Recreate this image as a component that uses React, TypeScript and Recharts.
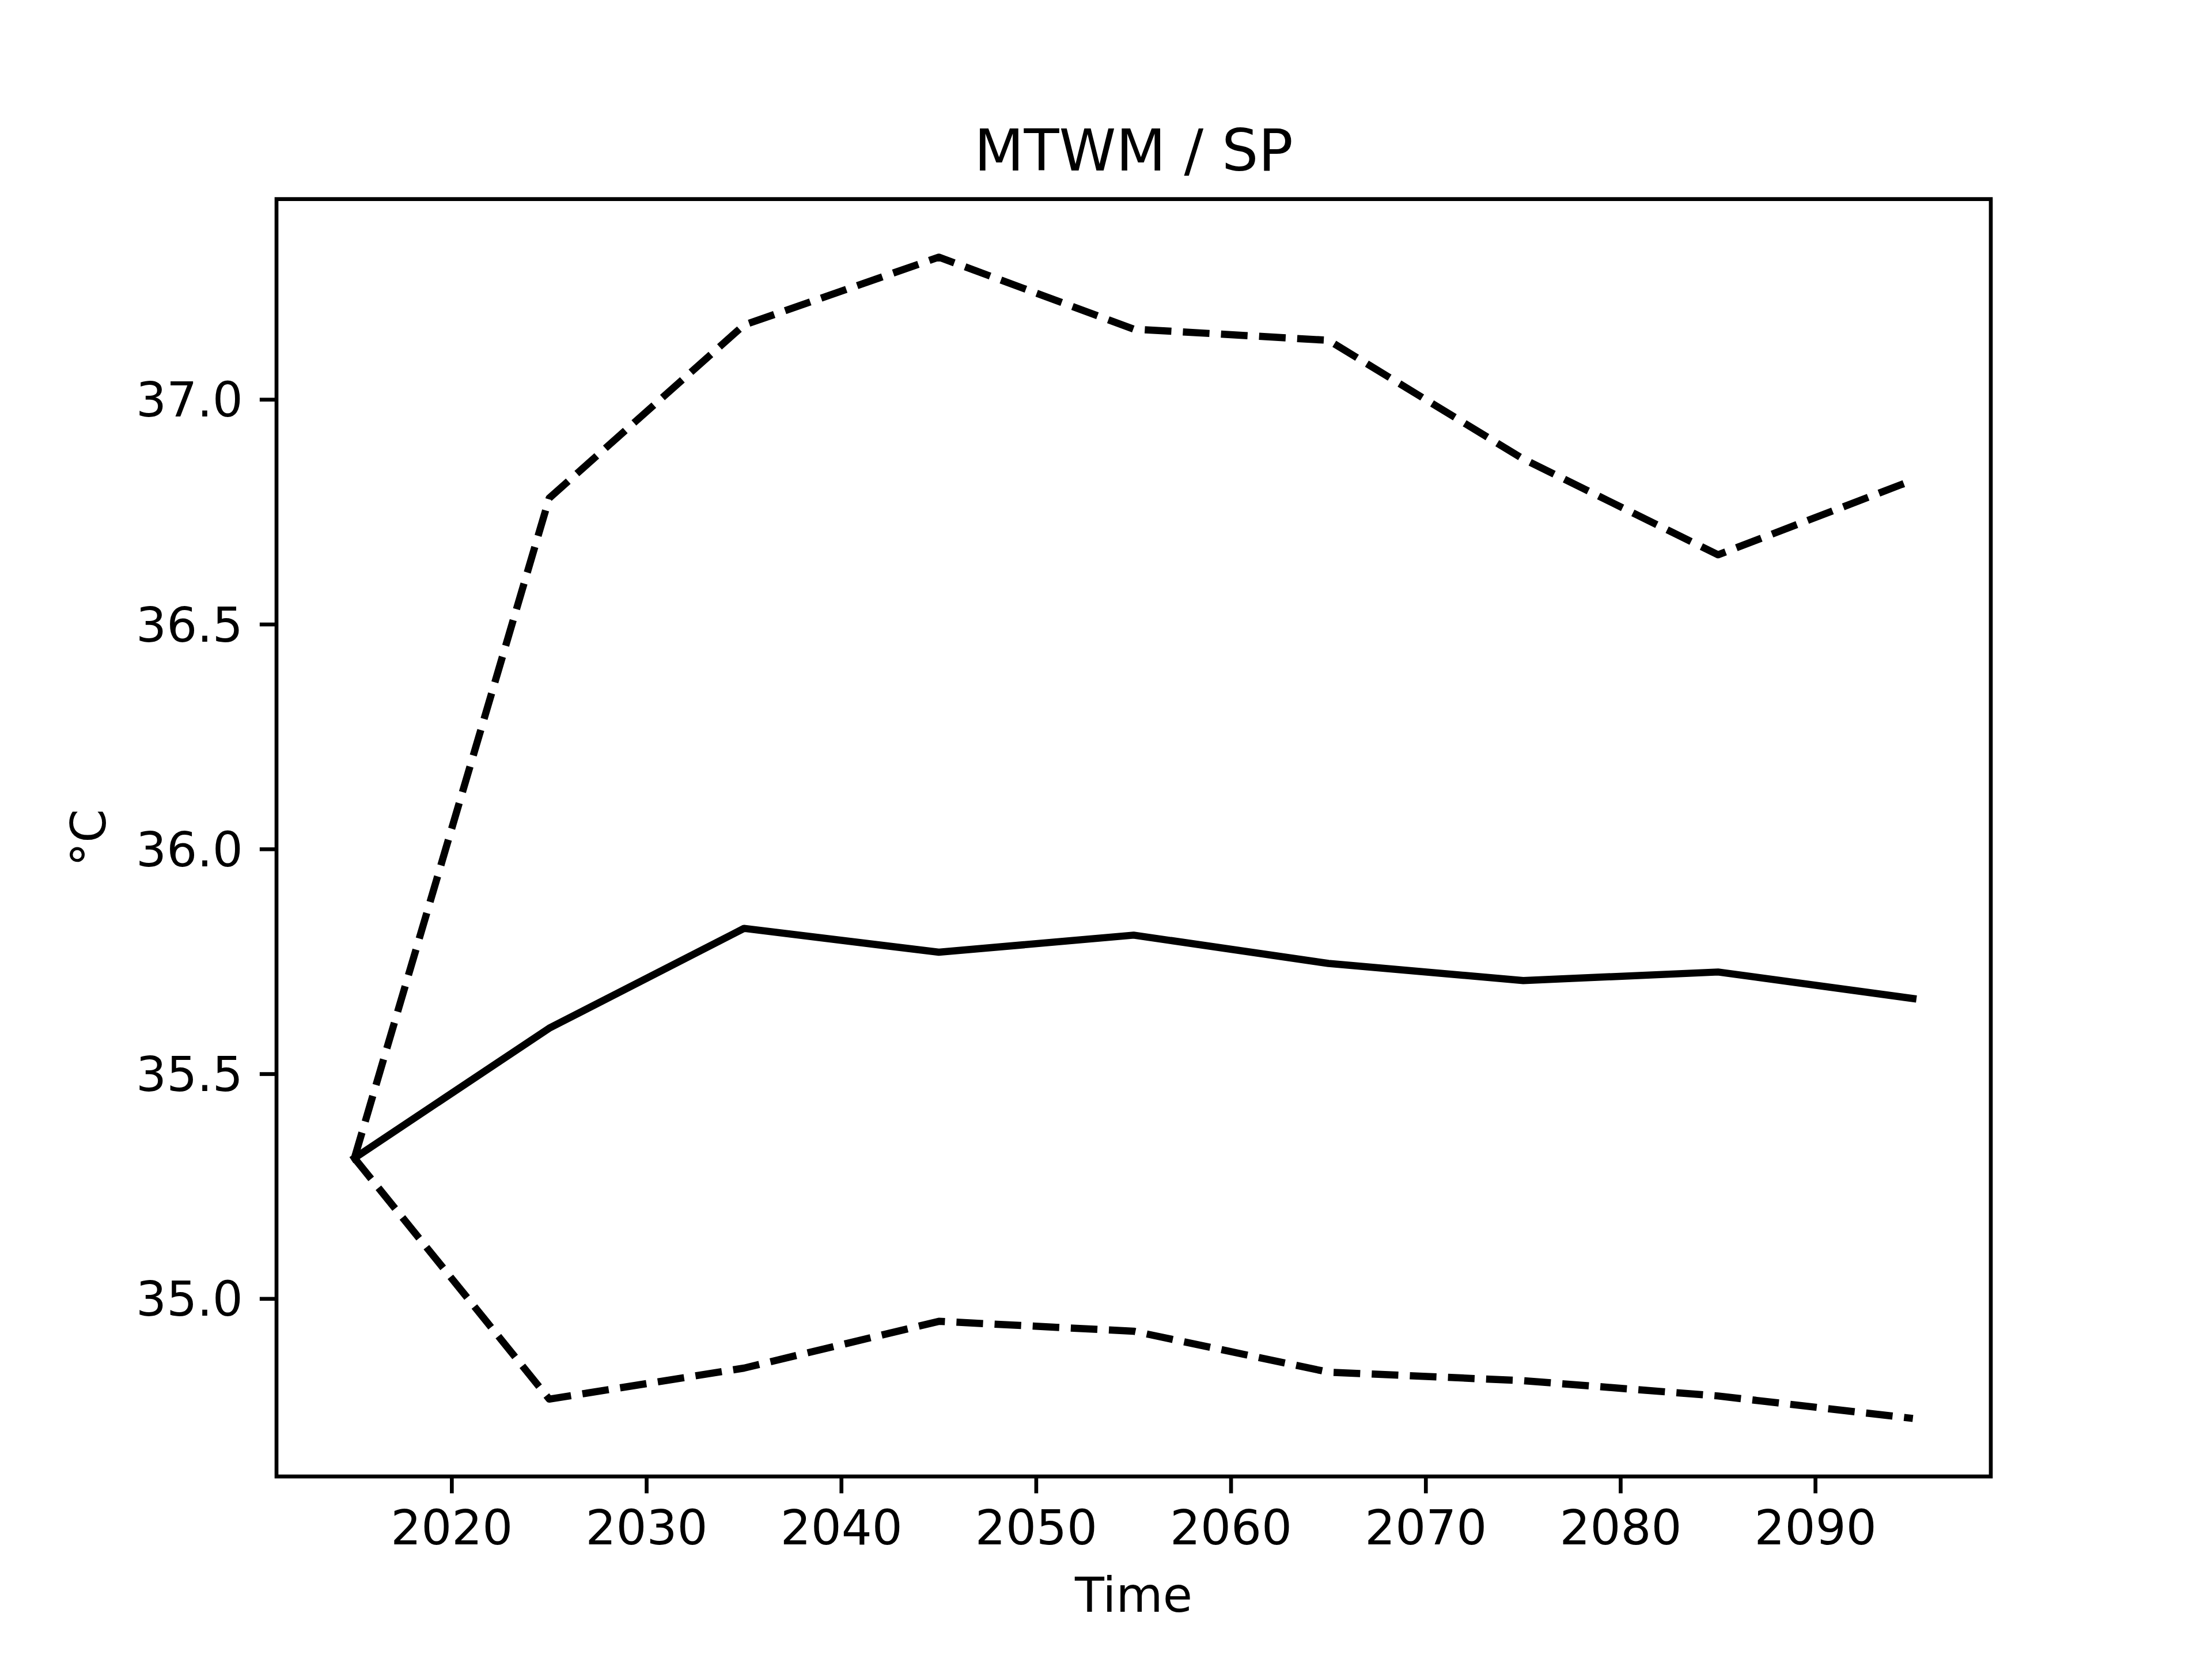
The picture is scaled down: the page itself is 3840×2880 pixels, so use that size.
import React from 'react';
import { LineChart, Line, XAxis, YAxis, ReferenceArea } from 'recharts';

const years = [2015, 2025, 2035, 2045, 2055, 2065, 2075, 2085, 2095];
const median = [35.313, 35.602, 35.824, 35.771, 35.809, 35.746, 35.708, 35.727, 35.668];
const upper = [35.313, 36.781, 37.166, 37.317, 37.157, 37.132, 36.868, 36.655, 36.821];
const lower = [35.313, 34.777, 34.846, 34.950, 34.928, 34.837, 34.818, 34.784, 34.734];
const xTicks = [2020, 2030, 2040, 2050, 2060, 2070, 2080, 2090];
const yTicks = [35.0, 35.5, 36.0, 36.5, 37.0];
const title = 'MTWM / SP';
const xLabel = 'Time';
const yLabel = '°C';

const data = years.map((y, i) => ({ year: y, median: median[i], upper: upper[i], lower: lower[i] }));

const W = 3840;
const H = 2880;
const PT = 600 / 72;
const FONT = 'DejaVu Sans';

const allY = [...median, ...upper, ...lower];
const yMin = Math.min(...allY);
const yMax = Math.max(...allY);
const yPad = (yMax - yMin) * 0.05;
const yDomain: [number, number] = [yMin - yPad, yMax + yPad];
const xPad = (years[years.length - 1] - years[0]) * 0.05;
const xDomain: [number, number] = [years[0] - xPad, years[years.length - 1] + xPad];

const left = 0.125 * W;
const right = 0.9 * W;
const top = 0.12 * H;
const bottom = 0.89 * H;

const tickFont = { fill: '#000', fontSize: 10 * PT, fontFamily: FONT };

export default function App() {
  return (
    <div style={{ position: 'absolute', left: 0, top: 0, width: W, height: H, background: '#fff' }}>
      <LineChart
        width={W}
        height={H}
        data={data}
        margin={{ top: top, right: W - right, bottom: 0, left: 0 }}
      >
        <XAxis
          dataKey="year"
          type="number"
          domain={xDomain}
          ticks={xTicks}
          interval={0}
          height={H - bottom}
          axisLine={false}
          tickLine={{ stroke: '#000', strokeWidth: 0.8 * PT }}
          tickSize={3.5 * PT}
          tickMargin={3.5 * PT}
          tick={tickFont}
          allowDataOverflow
          label={(props: any) => {
            const vb = props.viewBox || {};
            return (
              <text
                x={vb.x + vb.width / 2}
                y={2798}
                textAnchor="middle"
                fontFamily={FONT}
                fontSize={10 * PT}
                fill="#000"
              >
                {xLabel}
              </text>
            );
          }}
        />
        <YAxis
          type="number"
          domain={yDomain}
          ticks={yTicks}
          interval={0}
          width={left}
          axisLine={false}
          tickLine={{ stroke: '#000', strokeWidth: 0.8 * PT }}
          tickSize={3.5 * PT}
          tickMargin={3.5 * PT}
          tick={tickFont}
          tickFormatter={(v: number) => v.toFixed(1)}
          allowDataOverflow
          label={(props: any) => {
            const vb = props.viewBox || {};
            const cy = vb.y + vb.height / 2;
            const bx = 183;
            return (
              <text
                x={bx}
                y={cy}
                transform={`rotate(-90, ${bx}, ${cy})`}
                textAnchor="middle"
                fontFamily={FONT}
                fontSize={10 * PT}
                fill="#000"
              >
                {yLabel}
              </text>
            );
          }}
        />
        <ReferenceArea
          x1={xDomain[0]}
          x2={xDomain[1]}
          y1={yDomain[0]}
          y2={yDomain[1]}
          fill="none"
          fillOpacity={0}
          stroke="#000"
          strokeWidth={0.8 * PT}
          ifOverflow="visible"
        />
        <Line
          dataKey="upper"
          type="linear"
          stroke="#000"
          strokeWidth={1.5 * PT}
          strokeDasharray={`${3.7 * 1.5 * PT} ${1.6 * 1.5 * PT}`}
          strokeLinejoin="round"
          dot={false}
          activeDot={false}
          isAnimationActive={false}
        />
        <Line
          dataKey="median"
          type="linear"
          stroke="#000"
          strokeWidth={1.5 * PT}
          strokeLinejoin="round"
          strokeLinecap="square"
          dot={false}
          activeDot={false}
          isAnimationActive={false}
        />
        <Line
          dataKey="lower"
          type="linear"
          stroke="#000"
          strokeWidth={1.5 * PT}
          strokeDasharray={`${3.7 * 1.5 * PT} ${1.6 * 1.5 * PT}`}
          strokeLinejoin="round"
          dot={false}
          activeDot={false}
          isAnimationActive={false}
        />
      </LineChart>
      <svg
        width={W}
        height={H}
        style={{ position: 'absolute', left: 0, top: 0, pointerEvents: 'none' }}
      >
        <text
          x={(left + right) / 2}
          y={top - 6 * PT}
          textAnchor="middle"
          fontFamily={FONT}
          fontSize={12 * PT}
          fill="#000"
        >
          {title}
        </text>
      </svg>
    </div>
  );
}
